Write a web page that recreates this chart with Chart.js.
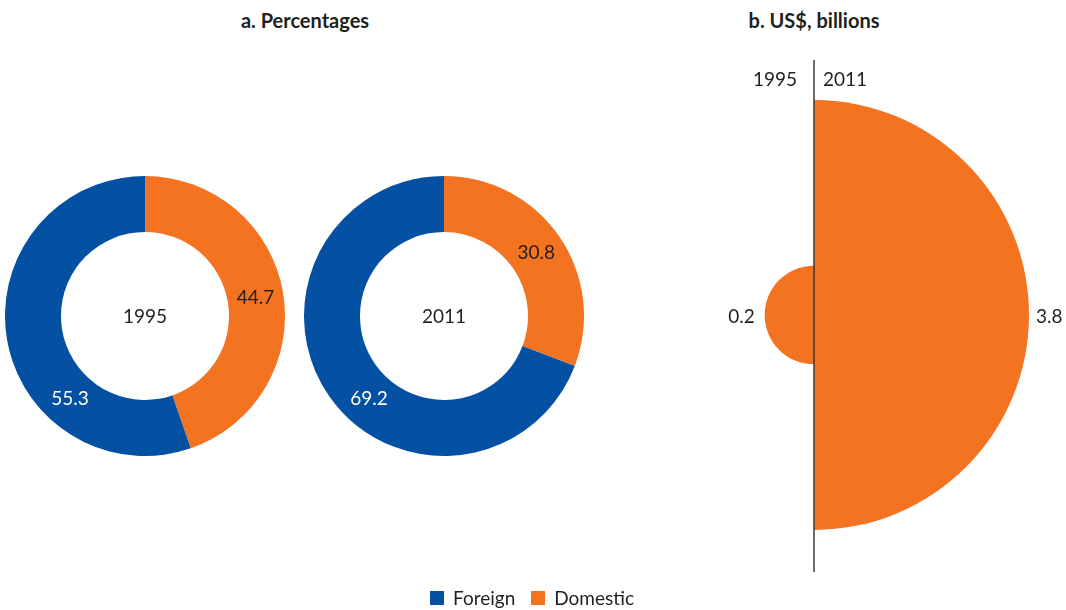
<!DOCTYPE html>
<html>
<head>
<meta charset="utf-8">
<script src="https://cdn.jsdelivr.net/npm/chart.js@4.4.1/dist/chart.umd.min.js"></script>
<style>
  html, body { margin: 0; padding: 0; background: #fff; }
  #wrap { position: relative; width: 1066px; height: 610px; font-family: Lato, "Open Sans", sans-serif; color: #231f20; }
  canvas { position: absolute; }
  .title { position: absolute; top: 8px; font-weight: bold; font-size: 20px; transform: translateX(-50%); white-space: nowrap; }
  #legend { position: absolute; left: 0; width: 1064px; top: 586px; display: flex; justify-content: center; align-items: center; font-size: 19px; }
  .sw { width: 14px; height: 14px; display: inline-block; margin-right: 9px; }
  .item { display: flex; align-items: center; margin: 0 8px; }
</style>
</head>
<body>
<div id="wrap">
  <div class="title" style="left:305px">a. Percentages</div>
  <div class="title" style="left:814px">b. US$, billions</div>
  <canvas id="d1995" width="280" height="280" style="left:5px;top:176px"></canvas>
  <canvas id="d2011" width="280" height="280" style="left:304px;top:176px"></canvas>
  <canvas id="usd" width="506" height="610" style="left:560px;top:0px"></canvas>
  <div id="legend">
    <div class="item"><span class="sw" style="background:#0450a2"></span>Foreign</div>
    <div class="item"><span class="sw" style="background:#f37321"></span>Domestic</div>
  </div>
</div>
<script>
// ---- Data ----
const years = ['1995', '2011'];
const shareLabels = ['Domestic', 'Foreign'];
const share1995 = [44.7, 55.3];
const share2011 = [30.8, 69.2];
const usdYears = ['2011', '1995'];
const usdValues = [3.8, 0.2];

const BLUE = '#0450a2';
const ORANGE = '#f37321';
const TEXT = '#231f20';
const FONT = 'Lato, "Open Sans", sans-serif';

const donutLabels = {
  id: 'donutLabels',
  afterDatasetsDraw(chart, args, opts) {
    const ctx = chart.ctx;
    const meta = chart.getDatasetMeta(0);
    const data = chart.data.datasets[0].data;
    ctx.save();
    ctx.font = '19px ' + FONT;
    ctx.textAlign = 'center';
    ctx.textBaseline = 'middle';
    meta.data.forEach((arc, i) => {
      const p = arc.getProps(['x', 'y', 'startAngle', 'endAngle', 'innerRadius', 'outerRadius'], true);
      let ang = (p.startAngle + p.endAngle) / 2;
      if (opts.fixedBearing[i] != null) ang = (opts.fixedBearing[i] - 90) * Math.PI / 180;
      const r = (p.innerRadius + p.outerRadius) / 2;
      ctx.fillStyle = opts.colors[i];
      ctx.fillText(data[i].toFixed(1), p.x + r * Math.cos(ang), p.y + r * Math.sin(ang));
    });
    const a0 = meta.data[0];
    ctx.fillStyle = TEXT;
    ctx.fillText(opts.center, a0.x, a0.y + 1);
    ctx.restore();
  }
};

function makeDonut(id, values, year) {
  new Chart(document.getElementById(id), {
    type: 'doughnut',
    data: {
      labels: shareLabels,
      datasets: [{ data: values, backgroundColor: [ORANGE, BLUE], borderWidth: 0, hoverOffset: 0 }]
    },
    options: {
      responsive: false,
      animation: false,
      cutout: '60%',
      layout: { padding: 0 },
      plugins: {
        legend: { display: false },
        tooltip: { enabled: false },
        donutLabels: { center: year, colors: [TEXT, '#ffffff'], fixedBearing: [null, 222] }
      }
    },
    plugins: [donutLabels]
  });
}
makeDonut('d1995', share1995, years[0]);
makeDonut('d2011', share2011, years[1]);

// Right panel: half circles, area proportional to value (radius ~ sqrt(value))
const usdPlugin = {
  id: 'usdPlugin',
  afterDatasetsDraw(chart) {
    const ctx = chart.ctx;
    const s = chart.scales.r;
    const cx = s.xCenter, cy = s.yCenter;
    const meta = chart.getDatasetMeta(0);
    ctx.save();
    ctx.strokeStyle = '#3a3a3a';
    ctx.lineWidth = 1.5;
    ctx.beginPath();
    ctx.moveTo(cx, 60);
    ctx.lineTo(cx, 572);
    ctx.stroke();
    ctx.fillStyle = TEXT;
    ctx.font = '19px ' + FONT;
    ctx.textBaseline = 'middle';
    ctx.textAlign = 'right';
    ctx.fillText(usdYears[1], cx - 17, 80);
    ctx.textAlign = 'left';
    ctx.fillText(usdYears[0], cx + 9, 80);
    meta.data.forEach((arc, i) => {
      const r = arc.outerRadius;
      if (i === 0) {
        ctx.textAlign = 'left';
        ctx.fillText(usdValues[i].toFixed(1), cx + r + 7, cy + 2);
      } else {
        ctx.textAlign = 'right';
        ctx.fillText(usdValues[i].toFixed(1), cx - r - 10, cy + 2);
      }
    });
    ctx.restore();
  }
};

new Chart(document.getElementById('usd'), {
  type: 'polarArea',
  data: {
    labels: usdYears,
    datasets: [{ data: usdValues.map(Math.sqrt), backgroundColor: [ORANGE, ORANGE], borderWidth: 0 }]
  },
  options: {
    responsive: false,
    animation: false,
    layout: { padding: { left: 39, right: 37, top: 100, bottom: 80 } },
    scales: {
      r: { display: false, min: 0, max: Math.sqrt(Math.max(...usdValues)), startAngle: 0 }
    },
    plugins: { legend: { display: false }, tooltip: { enabled: false } }
  },
  plugins: [usdPlugin]
});
</script>
</body>
</html>
